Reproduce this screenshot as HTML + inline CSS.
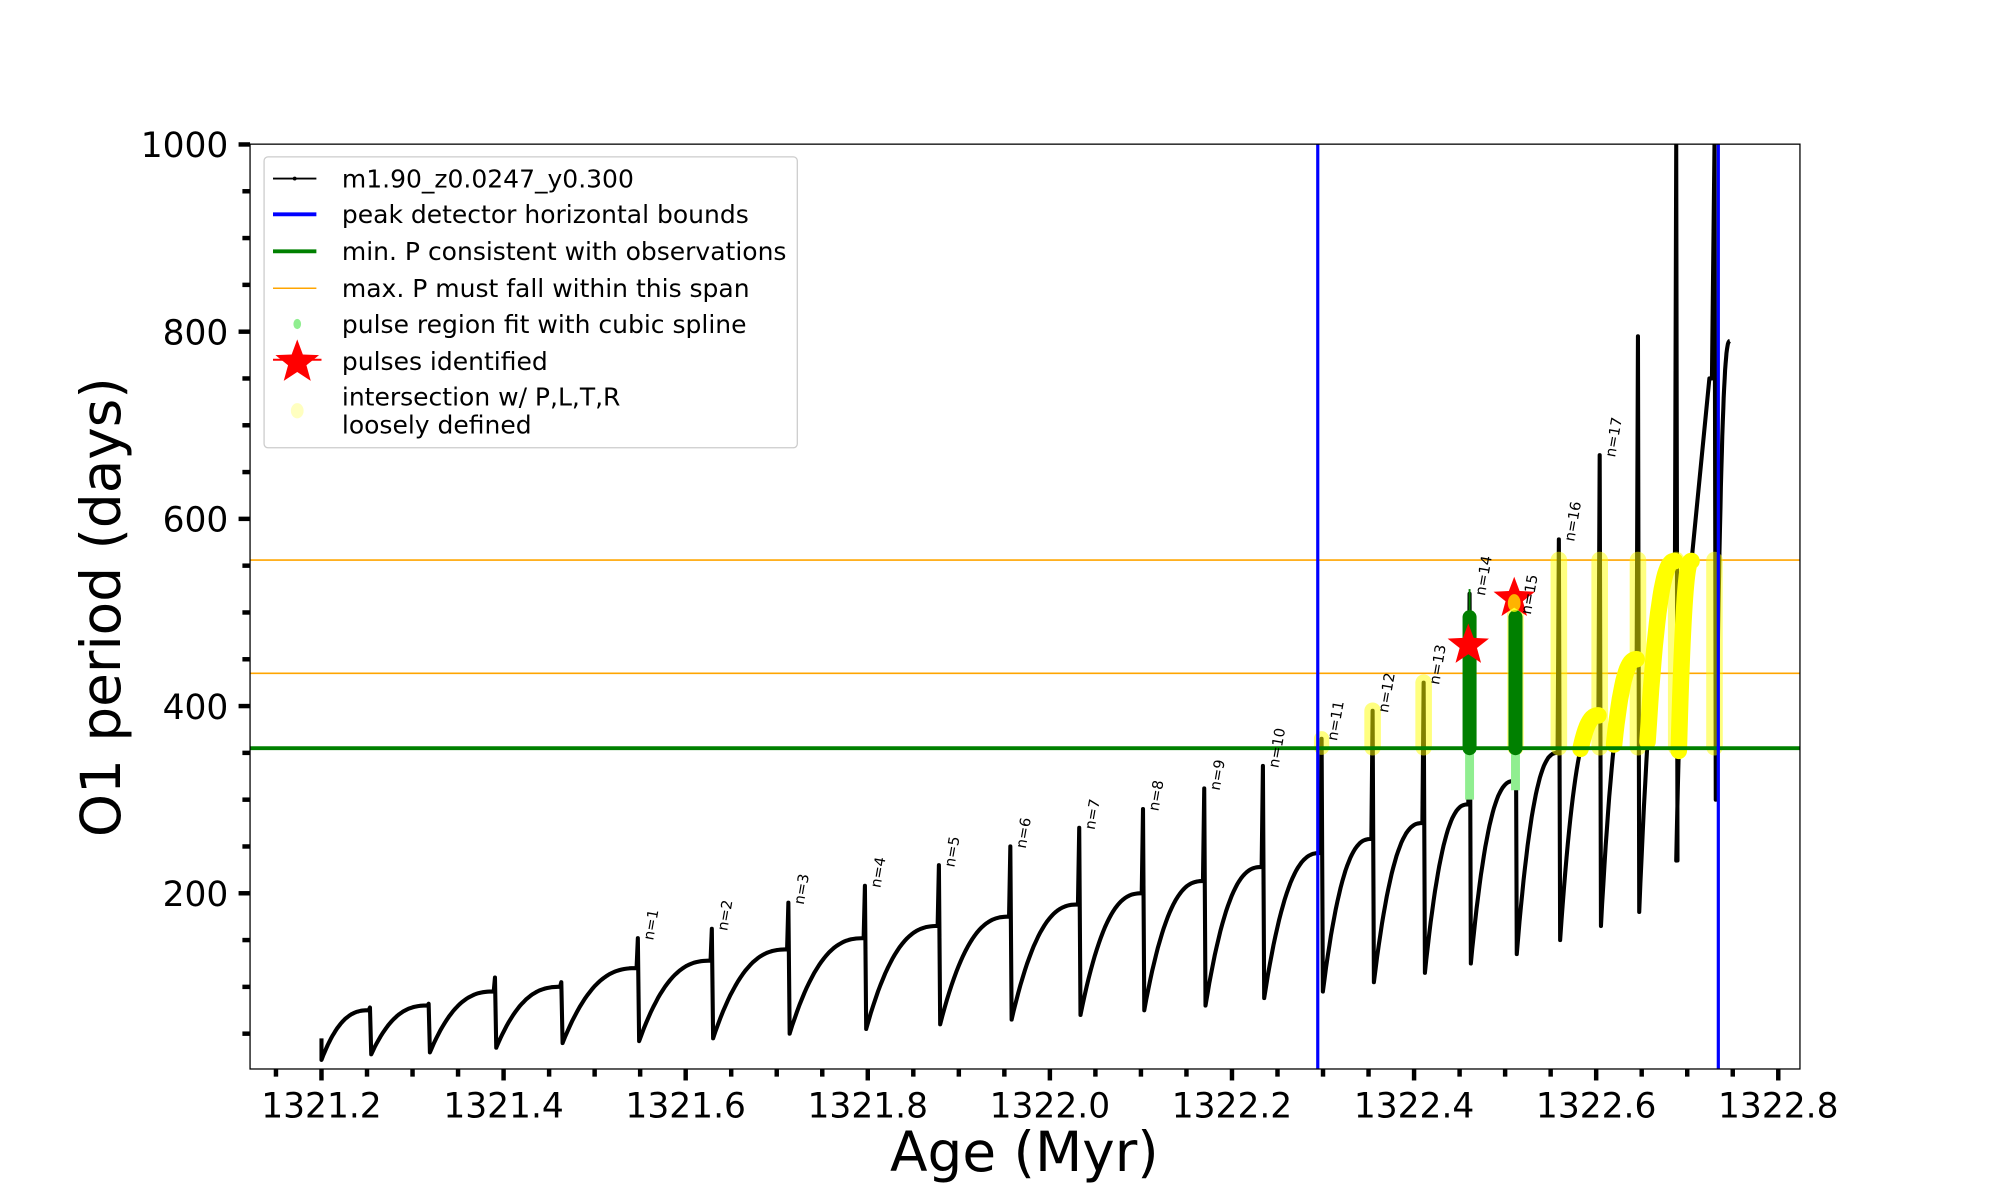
<!DOCTYPE html>
<html><head><meta charset="utf-8"><style>
html,body{margin:0;padding:0;background:#fff;}
svg{display:block;font-family:"DejaVu Sans","Liberation Sans",sans-serif;}
</style></head><body>
<svg id="s" width="2000" height="1200" viewBox="0 0 1567.8 940.7" xmlns="http://www.w3.org/2000/svg">
<rect x="0" y="0" width="1568" height="941" fill="#fff"/>
<g id="plot"></g>
<g id="axes"></g>
</svg>
<script>
const NS="http://www.w3.org/2000/svg";
const plot=document.getElementById('plot'), axes=document.getElementById('axes');
function el(p,n,a,t){const e=document.createElementNS(NS,n);for(const k in a)e.setAttribute(k,a[k]);if(t!==undefined)e.textContent=t;p.appendChild(e);return e;}
const Y=v=>847-0.73375*v;
const L=196,R=1411,T=113,B=838;
const defs=el(document.getElementById('s'),'defs',{});
const cp=el(defs,'clipPath',{id:'c'});el(cp,'rect',{x:L,y:T,width:R-L,height:B-T});
const g=el(plot,'g',{'clip-path':'url(#c)'});
el(g,'line',{x1:L,x2:R,y1:Y(556),y2:Y(556),stroke:'orange','stroke-width':1.2});
el(g,'line',{x1:L,x2:R,y1:Y(435),y2:Y(435),stroke:'orange','stroke-width':1.2});
const D=[290,336,388,440,500,558,618,678,736,792,846,896,944,990,1036,1076,1116,1152,1188,1222,1254,1284,1314,1344];
const P=[75,80,95,100,120,128,140,152,165,175,188,200,213,228,243,258,275,295,320,350,390,450,555,750];
const S=[78,82,110,105,152,162,190,208,230,250,270,290,312,336,365,395,425,520,500,578,668,795,1000,1000];
const M=[28,30,35,40,42,45,50,55,60,65,70,75,80,88,95,105,115,125,135,150,165,180,235,300];
let d=`M252 ${Y(45)} L252 ${Y(22)}`;
let x0=252,m=22;const yel=[];
function cyc(x0,x1,m,p,yflag){let seg=[];for(let i=0;i<=30;i++){const u=i/30;const v=m+(p-m)*(1-Math.pow(1-u,2.5));const x=x0+(x1-x0)*u;d+=` L${x.toFixed(1)} ${Y(v).toFixed(1)}`;if(yflag&&v>=352&&v<=560)seg.push([x,Y(Math.min(v,556))]);}
 if(seg.length>1)yel.push(seg);}
for(let i=0;i<D.length;i++){
 let x1=D[i];
 if(i==23){cyc(1314,1326,235,555,true);d+=` L1340 ${Y(750)} L1342 ${Y(750)}`;}
 else cyc(x0,x1-1,m,P[i],i>=20);
 d+=` L${x1} ${Y(S[i])} L${x1+1} ${Y(M[i])}`;
 x0=x1+1;m=M[i];
}
cyc(1345,1356,300,790,false);
el(g,'path',{d:d,fill:'none',stroke:'#000','stroke-width':3.2,'stroke-linejoin':'round'});
[1036,1076,1116,1188,1222,1254,1284,1314,1344].forEach((x)=>{
 const top=Math.min(S[D.indexOf(x)],556);
 el(g,'line',{x1:x,x2:x,y1:Y(top),y2:Y(356),stroke:'#ffff00','stroke-opacity':0.5,'stroke-width':(x==1036)?12:13,'stroke-linecap':'round'});
});
yel.forEach(s=>{el(g,'path',{d:'M'+s.map(p=>p[0].toFixed(1)+' '+p[1].toFixed(1)).join(' L'),fill:'none',stroke:'#ffff00','stroke-width':13,'stroke-linecap':'round','stroke-linejoin':'round'});});
[[1152,300,495],[1188,310,495]].forEach(a=>{
 el(g,'line',{x1:a[0],x2:a[0],y1:Y(a[1]),y2:Y(355),stroke:'#90ee90','stroke-width':7});
 el(g,'line',{x1:a[0],x2:a[0],y1:Y(355),y2:Y(a[2]),stroke:'#008000','stroke-width':11,'stroke-linecap':'round'});
});
el(g,'line',{x1:1152,x2:1152,y1:Y(495),y2:Y(525),stroke:'#008000','stroke-width':1.5});
el(g,'line',{x1:L,x2:R,y1:Y(355),y2:Y(355),stroke:'#008000','stroke-width':3});
function star(cx,cy,r){let p=[];for(let i=0;i<10;i++){const a=-Math.PI/2+i*Math.PI/5;const rr=i%2?r*0.42:r;p.push((cx+rr*Math.cos(a)).toFixed(1)+','+(cy+rr*Math.sin(a)).toFixed(1));}return p.join(' ');}
el(g,'polygon',{points:star(1151,Y(465),17),fill:'red'});
el(g,'polygon',{points:star(1187,Y(515),17),fill:'red'});
el(g,'ellipse',{cx:1187,cy:Y(510),rx:5,ry:7,fill:'#ffff00','fill-opacity':0.7});
[1033,1347].forEach(x=>el(g,'line',{x1:x,x2:x,y1:T,y2:B,stroke:'#0000ff','stroke-width':2.5}));
for(let n=1;n<=17;n++){const i=n+3;const x=D[i]+12,y=Y(S[i])+2;
 el(g,'text',{x:x,y:y,transform:`rotate(-80 ${x} ${y})`,'font-size':11.5},'n='+n);}
el(axes,'rect',{x:L,y:T,width:R-L,height:B-T,fill:'none',stroke:'#000','stroke-width':1});
for(let v=50;v<=1000;v+=50){const y=Y(v);const maj=v%200==0;el(axes,'line',{x1:L-(maj?9:6),x2:L,y1:y,y2:y,stroke:'#000','stroke-width':3.5});
 if(maj)el(axes,'text',{x:179,y:y+10,'text-anchor':'end','font-size':27},String(v));}
const X=t=>252+(t-1321.2)/0.2*142.75;
for(let k=-1;k<=33;k++){const t=1321.2+k*0.05;const x=X(t);if(x<L-1||x>R+1)continue;const maj=k%4==0;
 el(axes,'line',{x1:x,x2:x,y1:B,y2:B+(maj?9:6),stroke:'#000','stroke-width':3.5});
 if(maj)el(axes,'text',{x:x,y:876,'text-anchor':'middle','font-size':27},t.toFixed(1));}
el(axes,'text',{x:803,y:918,'text-anchor':'middle','font-size':43},'Age (Myr)');
el(axes,'text',{x:94,y:476,'text-anchor':'middle','font-size':43,transform:'rotate(-90 94 476)'},'O1 period (days)');
el(axes,'rect',{x:207,y:123,width:418,height:228,rx:3,fill:'#fff','fill-opacity':0.8,stroke:'#ccc','stroke-width':1});
const lx=268,fs=19.6;
const rows=[[140,'m1.90_z0.0247_y0.300'],[168,'peak detector horizontal bounds'],[197,'min. P consistent with observations'],[226,'max. P must fall within this span'],[254,'pulse region fit with cubic spline'],[283,'pulses identified'],[311,'intersection w/ P,L,T,R'],[333,'loosely defined']];
rows.forEach(r=>el(axes,'text',{x:lx,y:r[0]+7,'font-size':fs},r[1]));
el(axes,'line',{x1:214,x2:248,y1:140,y2:140,stroke:'#000','stroke-width':1.5});
el(axes,'circle',{cx:231,cy:140,r:1.5,fill:'#000'});
el(axes,'line',{x1:214,x2:248,y1:168,y2:168,stroke:'#0000ff','stroke-width':3});
el(axes,'line',{x1:214,x2:248,y1:197,y2:197,stroke:'#008000','stroke-width':3});
el(axes,'line',{x1:214,x2:248,y1:226,y2:226,stroke:'orange','stroke-width':1.2});
el(axes,'ellipse',{cx:233,cy:254,rx:3,ry:4,fill:'#90ee90'});
el(axes,'polygon',{points:star(233,284,18),fill:'red'});
el(axes,'line',{x1:214,x2:252,y1:282,y2:282,stroke:'red','stroke-width':1.5});
el(axes,'ellipse',{cx:233,cy:322,rx:5,ry:6,fill:'#ffffc0'});
</script>
</body></html>
